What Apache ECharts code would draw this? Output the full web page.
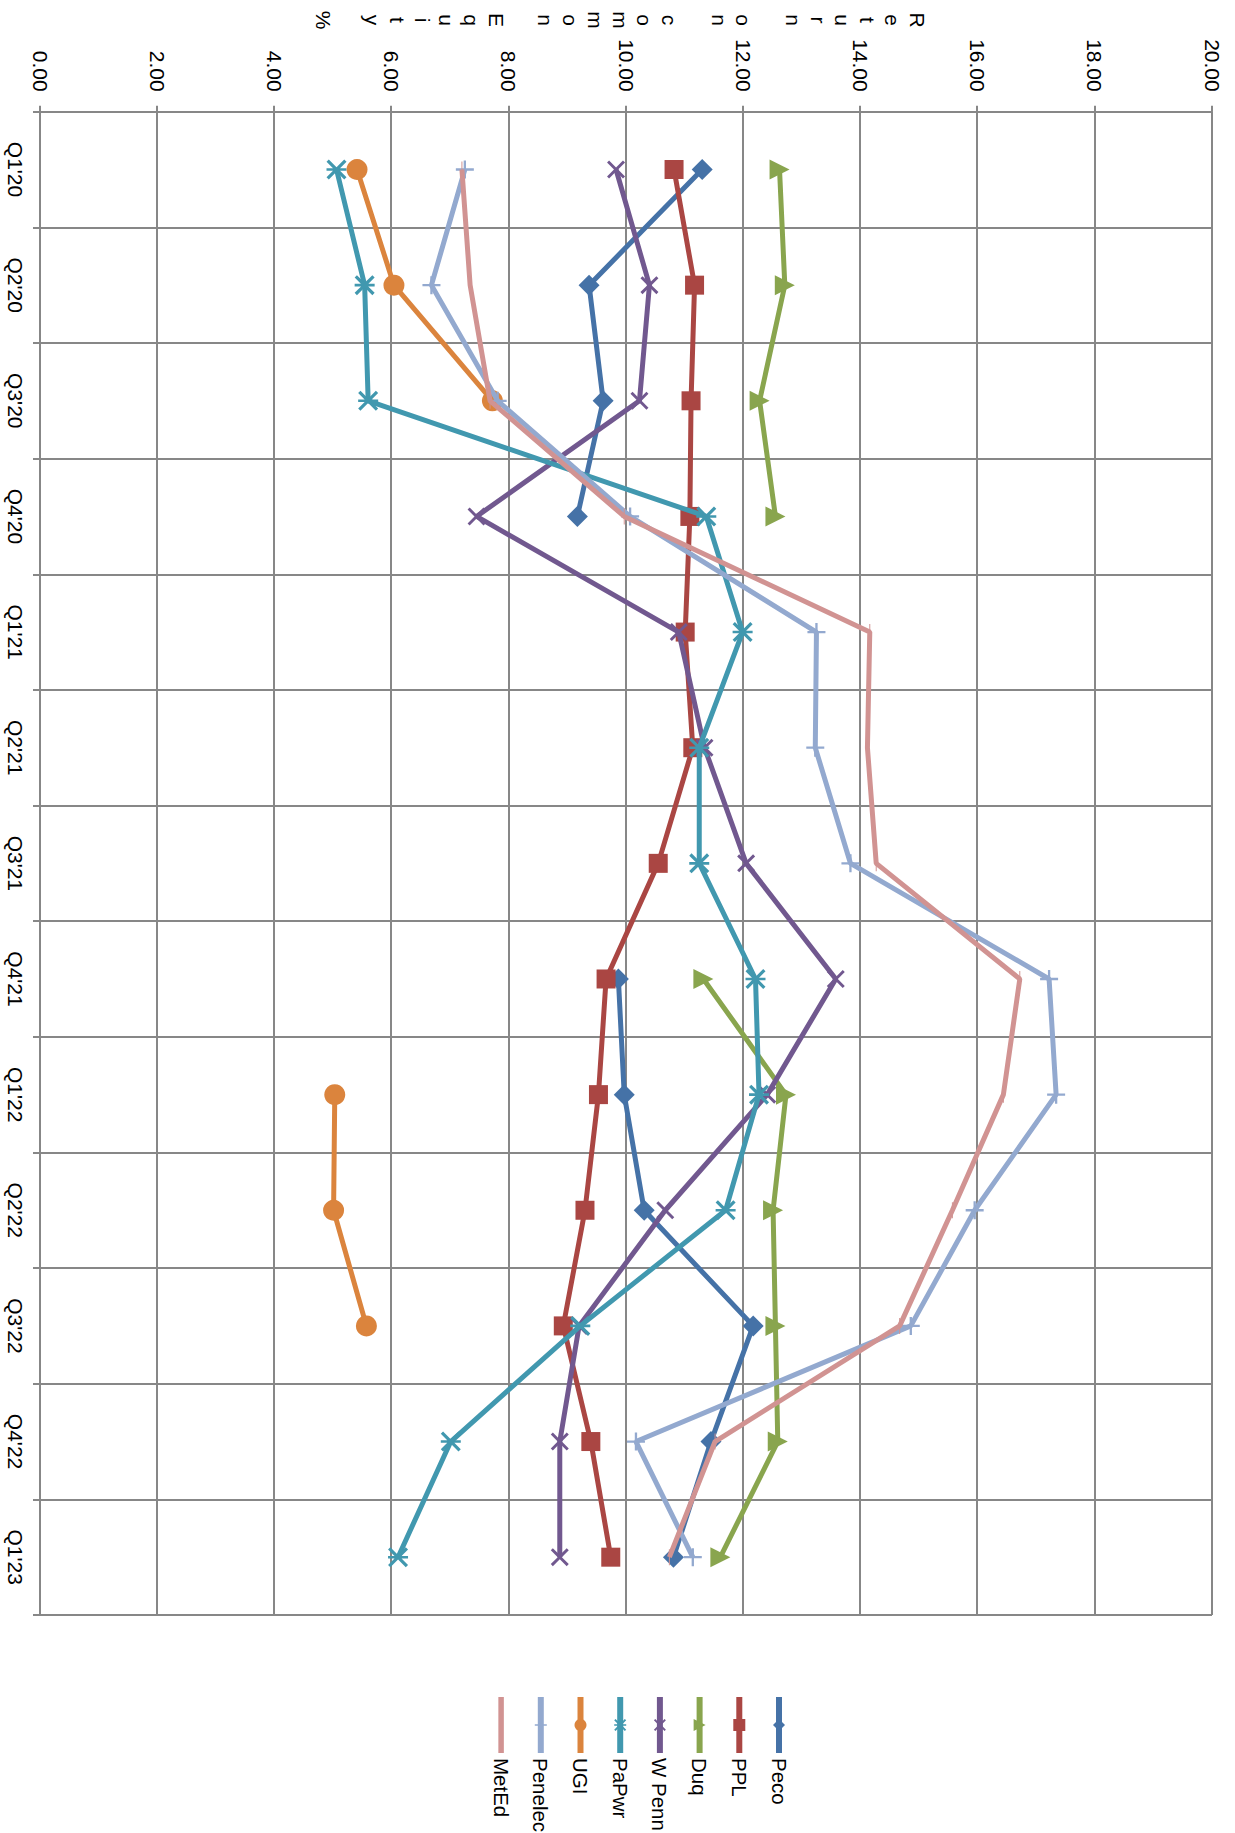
<!DOCTYPE html>
<html>
<head>
<meta charset="utf-8">
<script src="https://cdn.jsdelivr.net/npm/echarts@6/dist/echarts.min.js"></script>
<style>
  html, body { margin: 0; padding: 0; background: #ffffff; }
  #wrap { position: relative; width: 1235px; height: 1833px; overflow: hidden; background: #fff; }
  #chart { position: absolute; left: 0; top: 0; width: 1833px; height: 1235px;
           transform-origin: 0 0; transform: translate(1235px, 0) rotate(90deg); }
</style>
</head>
<body>
<div id="wrap"><div id="chart"></div></div>
<script>
// ---- data ----
const categories = ["Q1'20","Q2'20","Q3'20","Q4'20","Q1'21","Q2'21","Q3'21","Q4'21","Q1'22","Q2'22","Q3'22","Q4'22","Q1'23"];
const seriesNames = ["Peco","PPL","Duq","WPenn","PaPwr","UGI","Penelec","MetEd"];
const legendLabels = ["Peco","PPL","Duq","W Penn","PaPwr","UGI","Penelec","MetEd"];
const peco    = [11.30, 9.37, 9.61, 9.17, null, null, null, 9.87, 9.97, 10.31, 12.17, 11.45, 10.81];
const ppl     = [10.82, 11.17, 11.11, 11.09, 11.01, 11.14, 10.55, 9.66, 9.53, 9.30, 8.93, 9.40, 9.74];
const duq     = [12.62, 12.71, 12.28, 12.55, null, null, null, 11.32, 12.73, 12.51, 12.55, 12.59, 11.61];
const wpenn   = [9.83, 10.40, 10.23, 7.45, 10.90, 11.34, 12.05, 13.58, 12.41, 10.67, 9.20, 8.87, 8.87];
const papwr   = [5.06, 5.54, 5.60, 11.37, 11.99, 11.25, 11.25, 12.21, 12.27, 11.70, 9.22, 7.01, 6.11];
const ugi     = [5.41, 6.04, 7.72, null, null, null, null, null, 5.03, 5.01, 5.57, null, null];
const penelec = [7.25, 6.68, 7.81, 10.07, 13.25, 13.23, 13.83, 17.22, 17.34, 15.95, 14.86, 10.17, 11.14];
const meted   = [7.20, 7.34, 7.68, 9.97, 14.16, 14.12, 14.27, 16.72, 16.44, 15.57, 14.67, 11.52, 10.74];
const valueTicks = { min: 0, max: 20, interval: 2 };
const axisTitle = "Return on common Equity %";

// ---- styles ----
const FONT = "'Liberation Sans', Arial, sans-serif";
const colors = ["#4572A7","#AA4643","#89A54E","#71588F","#4198AF","#DB843D","#93A9CF","#D19392"];
const SYM_X = 'path://M0,1.6L1.6,0L7,5.4L12.4,0L14,1.6L8.6,7L14,12.4L12.4,14L7,8.6L1.6,14L0,12.4L5.4,7Z';
const SYM_STAR = 'path://M0,1.6L1.6,0L7,5.4L12.4,0L14,1.6L8.6,7L14,12.4L12.4,14L7,8.6L1.6,14L0,12.4L5.4,7Z M6.1,0L7.9,0L7.9,14L6.1,14Z';
const SYM_PLUS = 'path://M6.1,0L7.9,0L7.9,6.1L14,6.1L14,7.9L7.9,7.9L7.9,14L6.1,14L6.1,7.9L0,7.9L0,6.1L6.1,6.1Z';
const SYM_DASH = 'path://M0,0L16,0L16,4L0,4Z';
const LEGEND_LINE = 'path://M0,0L56,0L56,5.5L0,5.5Z';
const symbols = ['diamond','rect','triangle',SYM_X,SYM_STAR,'circle',SYM_PLUS,SYM_DASH];
const symbolSizes = [21, 19, 20, 18, 20, 21, 18, [16,4]];
const values = [peco, ppl, duq, wpenn, papwr, ugi, penelec, meted];

const gridCol = '#878787';

const chart = echarts.init(document.getElementById('chart'), null, { renderer: 'svg', width: 1833, height: 1235 });

const series = seriesNames.map((n, i) => ({
  name: legendLabels[i],
  type: 'line',
  data: values[i],
  symbol: symbols[i],
  symbolSize: symbolSizes[i],
  symbolKeepAspect: true,
  showAllSymbol: true,
  connectNulls: false,
  lineStyle: { width: 5, color: colors[i] },
  itemStyle: { color: colors[i] },
  emphasis: { disabled: true },
  z: 2 + i
}));

const legendData = legendLabels.map((n, i) => (
  seriesNames[i] === 'MetEd' ? { name: n, icon: LEGEND_LINE } : { name: n }
));

const titleLines = axisTitle.split('').join('\n');

chart.setOption({
  animation: false,
  backgroundColor: '#ffffff',
  textStyle: { fontFamily: FONT },
  grid: { left: 111.7, right: 218, top: 23, bottom: 40, containLabel: false },
  xAxis: {
    type: 'category',
    data: categories,
    boundaryGap: true,
    axisLine: { show: true, lineStyle: { color: gridCol, width: 2 } },
    axisTick: { show: true, length: 7, interval: 0, lineStyle: { color: gridCol, width: 2 } },
    axisLabel: { interval: 0, margin: 14, fontSize: 21, color: '#000', fontFamily: FONT },
    splitLine: { show: true, interval: 0, lineStyle: { color: gridCol, width: 2 } }
  },
  yAxis: {
    type: 'value',
    min: valueTicks.min, max: valueTicks.max, interval: valueTicks.interval,
    axisLine: { show: true, lineStyle: { color: gridCol, width: 2 } },
    axisTick: { show: true, length: 6, lineStyle: { color: gridCol, width: 2 } },
    axisLabel: { margin: 20, fontSize: 21, color: '#000', fontFamily: FONT,
                 formatter: v => v.toFixed(2) },
    splitLine: { show: true, lineStyle: { color: gridCol, width: 2 } }
  },
  legend: {
    orient: 'vertical',
    left: 1689,
    top: 439,
    itemWidth: 56,
    itemHeight: 15,
    itemGap: 15.7,
    symbolKeepAspect: true,
    data: legendData,
    textStyle: { fontSize: 20.5, color: '#000', fontFamily: FONT, lineHeight: 24 },
    lineStyle: { width: 6 },
    selectedMode: false
  },
  graphic: [{
    type: 'text',
    x: 20, y: 615,
    silent: true,
    style: {
      text: titleLines,
      font: '21px ' + FONT,
      fill: '#000',
      lineHeight: 24.75,
      align: 'center', verticalAlign: 'middle',
      textAlign: 'center', textVerticalAlign: 'middle'
    }
  }],
  series: series
});
</script>
</body>
</html>
